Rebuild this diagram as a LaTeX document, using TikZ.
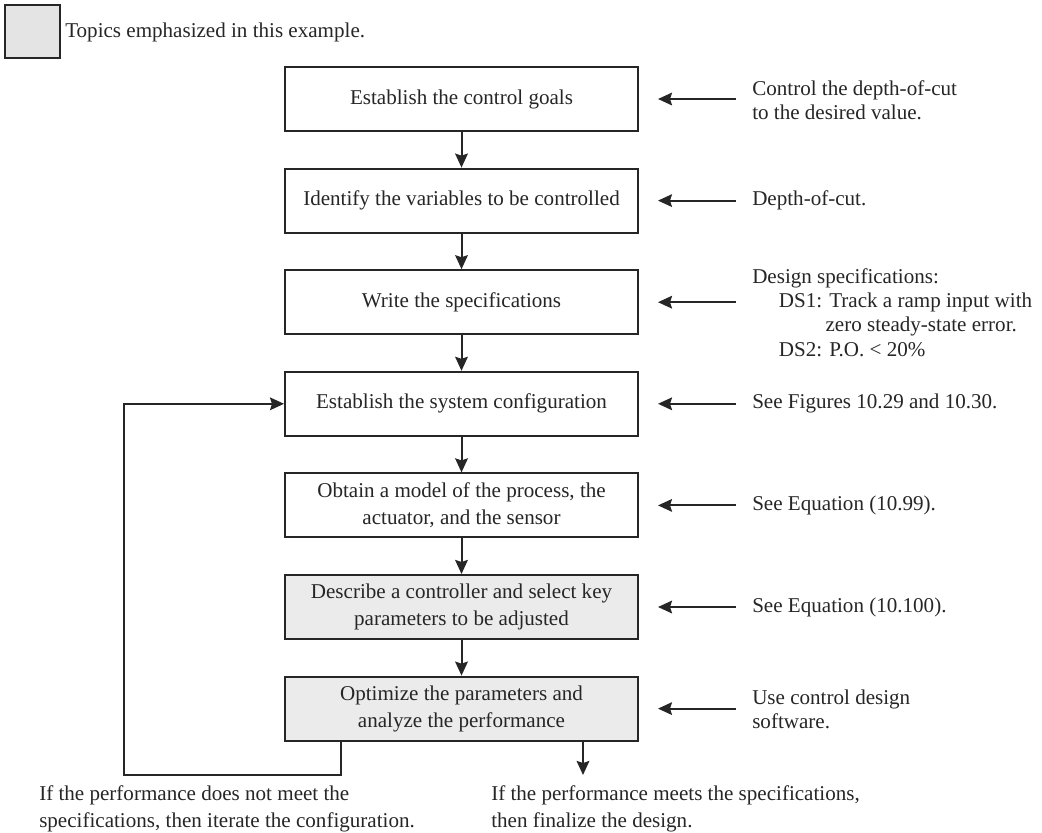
\documentclass[tikz,border=0pt]{standalone}
\usepackage{fontspec}
\setmainfont{Liberation Serif}
\usetikzlibrary{arrows.meta,calc}
\definecolor{ink}{HTML}{262626}
\definecolor{shade}{HTML}{EBEBEB}
\definecolor{legshade}{HTML}{E4E4E4}
\begin{document}
\begin{tikzpicture}[x=0.75pt,y=-0.75pt,
  every node/.style={text=ink},
  boxtxt/.style={font=\fontsize{15.8}{20.3}\selectfont},
  notetxt/.style={font=\fontsize{15.8}{18.2}\selectfont},
  stepbox/.style={draw=ink,line width=1.5pt,fill=white,minimum width=264.75pt,minimum height=48pt,inner sep=2pt,align=center,boxtxt},
  hlbox/.style={stepbox,fill=shade},
  note/.style={anchor=west,align=left,inner xsep=12pt,inner ysep=0pt,notetxt},
  arr/.style={draw=ink,line width=1.5pt,-{Stealth[length=10.5pt,width=9.5pt,inset=1.5pt]}},
  plain/.style={draw=ink,line width=1.5pt}
]
\useasboundingbox (0,0) rectangle (1042,832);

% legend
\node[draw=ink,line width=1.5pt,fill=legshade,minimum width=41.25pt,minimum height=39.75pt,inner sep=0pt] (leg) at (32.5,31.5) {};
\node[anchor=west,inner sep=0pt,notetxt] (legtxt) at (65,32) {Topics emphasized in this example.};

% main boxes
\node[stepbox] (b1) at (461.5,99) {Establish the control goals};
\node[stepbox] (b2) at (461.5,200.6) {Identify the variables to be controlled};
\node[stepbox] (b3) at (461.5,302.2) {Write the specifications};
\node[stepbox] (b4) at (461.5,403.8) {Establish the system configuration};
\node[stepbox] (b5) at (461.5,505.4) {Obtain a model of the process, the\\actuator, and the sensor};
\node[hlbox] (b6) at (461.5,607) {Describe a controller and select key\\parameters to be adjusted};
\node[hlbox] (b7) at (461.5,708.6) {Optimize the parameters and\\analyze the performance};

\draw[arr] (b1) -- (b2);
\draw[arr] (b2) -- (b3);
\draw[arr] (b3) -- (b4);
\draw[arr] (b4) -- (b5);
\draw[arr] (b5) -- (b6);
\draw[arr] (b6) -- (b7);

% notes on the right
\node[note] (n1) at (736,100) {Control the depth-of-cut\\to the desired value.};
\node[note] (n2) at (736,200.6) {Depth-of-cut.};
\node[note] (n3) at (736,312.5) {Design specifications:\\
  \hspace*{20pt}DS1: Track a ramp input with\\
  \hspace*{55pt}zero steady-state error.\\
  \hspace*{20pt}DS2: P.O. < 20\%};
\node[note] (n4) at (736,403.8) {See Figures 10.29 and 10.30.};
\node[note] (n5) at (736,505.4) {See Equation (10.99).};
\node[note] (n6) at (736,607) {See Equation (10.100).};
\node[note] (n7) at (736,709.5) {Use control design\\software.};

\foreach \i in {1,...,7}{
  \draw[arr,shorten >=14.25pt] (n\i.west |- b\i.east) -- (b\i.east);
}

% feedback loop and output
\coordinate (loopcorner) at (124,775);
\coordinate (outend) at (583,775);
\draw[arr] ([xshift=-90.4pt]b7.south) |- (loopcorner) |- (b4.west);
\draw[arr] (b7.south -| outend) -- (outend);

% bottom texts
\node[anchor=west,align=left,inner sep=0pt,boxtxt] (t1) at (39,808.5) {If the performance does not meet the\\specifications, then iterate the configuration.};
\node[anchor=west,align=left,inner sep=0pt,boxtxt] (t2) at (491,808.5) {If the performance meets the specifications,\\then finalize the design.};
\end{tikzpicture}
\end{document}
